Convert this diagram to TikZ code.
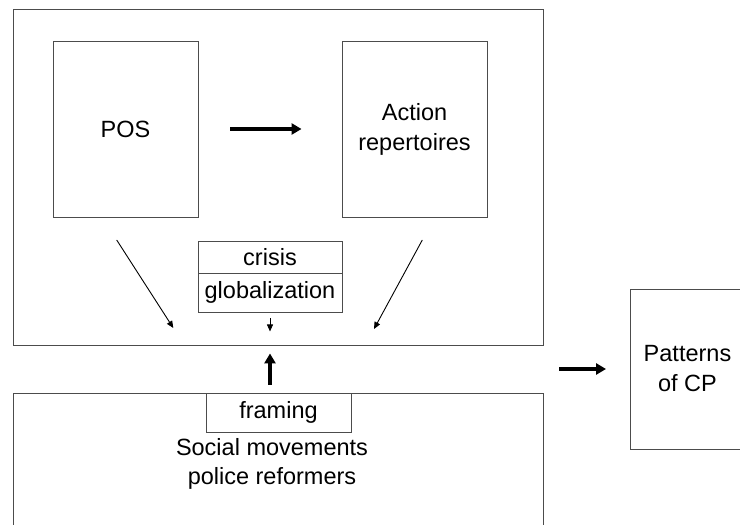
\documentclass[tikz,border=0pt]{standalone}
\usepackage{fontspec}
\setmainfont{Liberation Sans}
\usetikzlibrary{arrows.meta,calc}
\begin{document}
\begin{tikzpicture}[x=1pt,y=-1pt,
  box/.style={draw=black!70,line width=0.9pt,rectangle,inner sep=0pt,align=center,font=\fontsize{23.5}{30}\selectfont},
  lbl/.style={inner sep=0pt,align=center,font=\fontsize{23.5}{29}\selectfont},
  thin/.style={draw=black,line width=0.9pt,-{Triangle[length=7pt,width=6pt]}},
  thick/.style={draw=black,line width=3.5pt,-{Triangle[length=10pt,width=11pt]}}]
\useasboundingbox (0,0) rectangle (740,525);
\clip (0,0) rectangle (740,525);
\fill[white] (0,0) rectangle (740,525);
% outer boxes
\node[box,minimum width=530pt,minimum height=336pt] (top) at (278,177) {};
\node[box,minimum width=530pt,minimum height=170pt] (bottom) at (278,478) {};
% inner boxes
\node[box,minimum width=145pt,minimum height=176pt] (pos) at (125.5,129) {POS};
\node[box,minimum width=145pt,minimum height=176pt] (act) at (414.5,129) {Action\\repertoires};
\node[box,minimum width=144pt,minimum height=32pt] (crisis) at (270,257) {crisis};
\node[box,minimum width=144pt,minimum height=39pt] (glob) at (270,292.5) {globalization};
\node[box,minimum width=145pt,minimum height=39pt] (framing) at (278.5,412.5) {framing};
\node[lbl] (sm) at (272,464) {Social movements\\police reformers};
\node[box,minimum width=114pt,minimum height=160pt] (pat) at (687.5,369) {Patterns\\of CP};
% connectors
\coordinate (l1) at (116.7,240);
\coordinate (l2) at (173.3,328);
\coordinate (r1) at (422.3,240);
\coordinate (r2) at (374,329);
\coordinate (pa) at (559,369);
\draw[thick] (pos.east) ++(32,0) coordinate (pe) -- ($(act.west)+(-40,0)$) coordinate (ae);
\draw[thin] (l1) -- (l2);
\draw[thin] (r1) -- (r2);
\draw[thin,shorten <=6pt] (glob.south) -- ++(0,19);
\draw[thick,shorten <=8pt,shorten >=8pt] (glob.south |- bottom.north) -- (glob.south |- top.south);
\draw[thick,shorten >=24pt] (pa) -- (pat.west);
\end{tikzpicture}
\end{document}
